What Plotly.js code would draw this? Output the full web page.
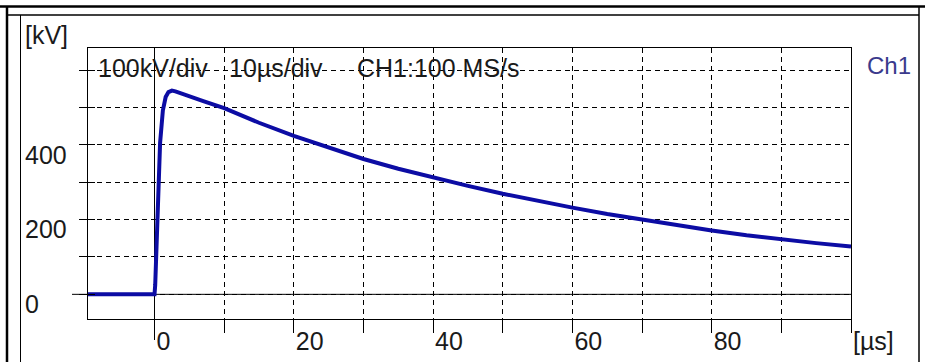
<!DOCTYPE html>
<html><head><meta charset="utf-8">
<script src="https://cdn.plot.ly/plotly-3.0.1.min.js"></script>
<style>html,body{margin:0;padding:0;background:#fff;}#chart{width:925px;height:362px;}</style>
</head><body><div id="chart"></div>
<script>
// ---- data ----
const timeUs    = [-10, 0, 0.1, 0.3, 0.5, 0.8, 1.2, 1.6, 2.0, 2.5, 3, 4, 5, 7, 10, 15, 20, 25, 30, 35, 40, 45, 50, 55, 60, 65, 70, 75, 80, 85, 90, 95, 100];
const voltageKV = [0, 0, 25, 140, 270, 405, 492, 528, 541, 545, 543, 537, 530, 517, 498, 459, 424, 392, 362, 336, 312, 290, 269, 250, 232, 215, 200, 185, 171, 158, 147, 137, 128];
const xTickVals = [0, 10, 20, 30, 40, 50, 60, 70, 80, 90, 100];
const xTickText = ["0", "", "20", "", "40", "", "60", "", "80", "", "[µs]"];
const yTickVals = [0, 100, 200, 300, 400, 500, 600];
const yLabelVals = [0, 200, 400];
const yLabelText = ["0", "200", "400"];
const headerTexts = ["100kV/div", "10µs/div", "CH1:100 MS/s"];
const channelName = "Ch1";
const yUnit = "[kV]";

// ---- layout geometry ----
const W = 925, H = 362, L = 20, R = 74, T = 48, B = 43;
const pw = W - L - R, ph = H - T - B;
const px = x => (x - L) / pw;
const py = y => (H - B - y) / ph;
const xRange = [-9.55, 100], yRange = [-66, 659];
const dx0 = px(88);
const FONT = "'Liberation Sans', Arial, sans-serif";
const TXT = '#1a1a1a';
const zeroPx = 88 + (0 - xRange[0]) / (xRange[1] - xRange[0]) * (851 - 88);
const yZeroPaper = (0 - yRange[0]) / (yRange[1] - yRange[0]);

const traces = [
  {x: timeUs, y: voltageKV, type: 'scatter', mode: 'lines',
   line: {color: '#0c0ca4', width: 4}, showlegend: false, hoverinfo: 'skip'},
  // carriers for the helper axes (no visible marks)
  {x: [null], y: [null], yaxis: 'y2', type: 'scatter', mode: 'lines', showlegend: false, hoverinfo: 'skip'},
  {x: [null], y: [null], yaxis: 'y3', type: 'scatter', mode: 'lines', showlegend: false, hoverinfo: 'skip'}
];

const axCommon = {color: '#000', linecolor: '#000', tickcolor: '#000', zeroline: false};
const layout = {
  width: W, height: H,
  margin: {l: L, r: R, t: T, b: B, pad: 0},
  paper_bgcolor: '#fff', plot_bgcolor: '#fff',
  font: {family: FONT, size: 25, color: TXT},
  showlegend: false,
  xaxis: Object.assign({}, axCommon, {
    domain: [dx0, 1], range: xRange, tickmode: 'array', tickvals: xTickVals, ticktext: xTickText,
    ticks: 'outside', ticklen: 13, tickwidth: 1,
    showgrid: true, gridcolor: '#000', gridwidth: 1, griddash: '5px,4px',
    showline: true, mirror: true, linewidth: 1, ticklabelshift: 1,
    ticklabelposition: 'outside right', tickfont: {family: FONT, size: 25, color: TXT}
  }),
  yaxis: Object.assign({}, axCommon, {
    domain: [0, 1], anchor: 'x', range: yRange, tickmode: 'array', tickvals: yTickVals,
    ticks: 'outside', ticklen: 8, tickwidth: 1, showticklabels: false,
    showgrid: true, gridcolor: '#000', gridwidth: 1, griddash: '5px,4px',
    showline: true, mirror: true, linewidth: 1
  }),
  yaxis2: Object.assign({}, axCommon, {
    overlaying: 'y', anchor: 'x', side: 'left', range: yRange, tickmode: 'array', tickvals: yTickVals,
    ticks: 'inside', ticklen: 7, tickwidth: 1, showticklabels: false, showgrid: false, showline: false
  }),
  yaxis3: Object.assign({}, axCommon, {
    overlaying: 'y', anchor: 'free', position: 0, side: 'right', range: yRange,
    tickmode: 'array', tickvals: yLabelVals, ticktext: yLabelText,
    ticks: '', showgrid: false, showline: false, ticklabelshift: 10, ticklabelstandoff: 4,
    tickfont: {family: FONT, size: 25, color: TXT}
  }),
  shapes: [
    {type: 'line', xref: 'paper', yref: 'paper', x0: px(72), x1: 1, y0: yZeroPaper, y1: yZeroPaper, line: {color: '#000', width: 1}, layer: 'below'},
    {type: 'line', xref: 'paper', yref: 'paper', x0: px(zeroPx), x1: px(zeroPx), y0: py(340), y1: 1, line: {color: '#000', width: 1}, layer: 'below'},
    {type: 'line', xref: 'paper', yref: 'paper', x0: px(0), x1: px(925), y0: py(6.5), y1: py(6.5), line: {color: '#000', width: 2.5}},
    {type: 'line', xref: 'paper', yref: 'paper', x0: px(7), x1: px(919), y0: py(15), y1: py(15), line: {color: '#000', width: 1.5}},
    {type: 'line', xref: 'paper', yref: 'paper', x0: px(7), x1: px(7), y0: py(6), y1: py(362), line: {color: '#000', width: 2.5}},
    {type: 'line', xref: 'paper', yref: 'paper', x0: px(20.5), x1: px(20.5), y0: py(15), y1: py(362), line: {color: '#000', width: 1}},
    {type: 'line', xref: 'paper', yref: 'paper', x0: px(919), x1: px(919), y0: py(6), y1: py(362), line: {color: '#000', width: 1.5}}
  ],
  annotations: [
    {text: yUnit, xref: 'paper', yref: 'paper', x: px(23), y: py(35), xanchor: 'left', yanchor: 'middle', showarrow: false, font: {family: FONT, size: 25, color: TXT}},
    {text: channelName, xref: 'paper', yref: 'paper', x: px(865), y: py(65), xanchor: 'left', yanchor: 'middle', showarrow: false, font: {family: FONT, size: 24, color: '#3a3a8c'}},
    {text: headerTexts[0], xref: 'paper', yref: 'paper', x: px(96), y: py(68), xanchor: 'left', yanchor: 'middle', showarrow: false, font: {family: FONT, size: 25, color: TXT}},
    {text: headerTexts[1], xref: 'paper', yref: 'paper', x: px(227), y: py(68), xanchor: 'left', yanchor: 'middle', showarrow: false, font: {family: FONT, size: 25, color: TXT}},
    {text: headerTexts[2], xref: 'paper', yref: 'paper', x: px(355), y: py(68), xanchor: 'left', yanchor: 'middle', showarrow: false, font: {family: FONT, size: 25, color: TXT}}
  ]
};

Plotly.newPlot('chart', traces, layout, {staticPlot: true, displayModeBar: false});
</script>
</body></html>
